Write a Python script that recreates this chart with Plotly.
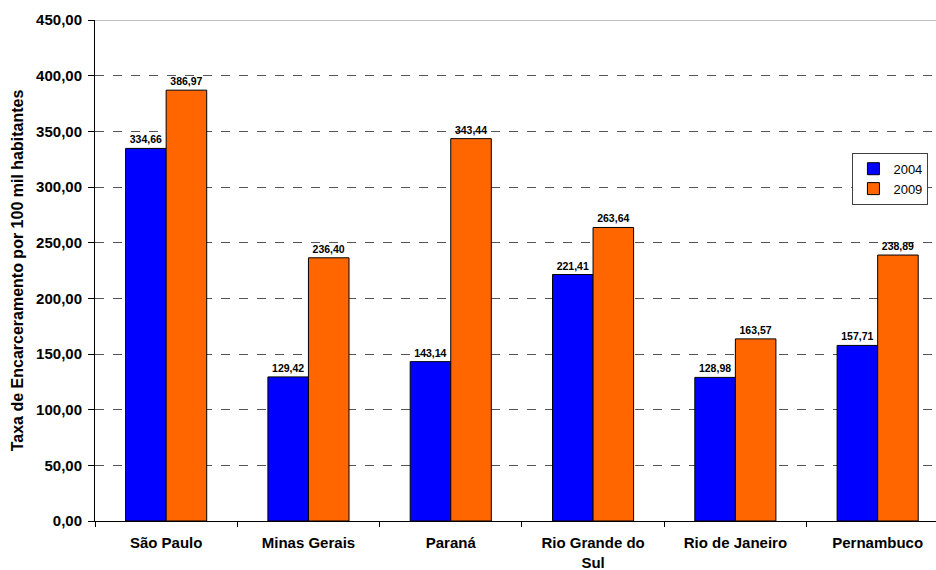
import plotly.graph_objects as go

categories = ["São Paulo", "Minas Gerais", "Paraná", "Rio Grande do<br>Sul", "Rio de Janeiro", "Pernambuco"]
values_2004 = [334.66, 129.42, 143.14, 221.41, 128.98, 157.71]
values_2009 = [386.97, 236.40, 343.44, 263.64, 163.57, 238.89]
y_ticks = [0, 50, 100, 150, 200, 250, 300, 350, 400, 450]

FONT = "Arial, 'Liberation Sans', sans-serif"

fig = go.Figure()
for name, vals, color in [("2004", values_2004, "#0000FF"), ("2009", values_2009, "#FF6600")]:
    fig.add_trace(go.Bar(
        x=categories, y=vals, name=name,
        marker=dict(color=color, line=dict(color="black", width=1)),
        texttemplate="%{y:.2f}", textposition="outside",
        textfont=dict(family=FONT, size=10.5, color="black", weight="bold"),
        cliponaxis=False,
    ))

fig.add_shape(type="line", xref="paper", x0=0, x1=1, yref="y", y0=450, y1=450,
              line=dict(color="#808080", width=1))

fig.update_layout(
    width=936, height=570,
    margin=dict(l=95, r=0, t=20, b=49, autoexpand=False),
    paper_bgcolor="white", plot_bgcolor="white",
    separators=",.",
    barmode="group", bargap=0.43, bargroupgap=0,
    font=dict(family=FONT, color="black"),
    showlegend=True,
    legend=dict(x=0.991, y=0.735, xanchor="right", yanchor="top",
                bordercolor="#404040", borderwidth=1, bgcolor="white",
                font=dict(size=13, family=FONT), itemwidth=30,
                tracegroupgap=0),
    xaxis=dict(
        range=[-0.5, 5.41], showline=True, linecolor="black", linewidth=1,
        ticks="outside", tickson="boundaries", ticklen=5, tickcolor="black",
        tickfont=dict(size=15, family=FONT, weight="bold"), showgrid=False,
        ticklabelstandoff=8,
    ),
    yaxis=dict(
        range=[0, 450], tickvals=y_ticks, tickformat=".2f",
        showline=True, linecolor="black", linewidth=1,
        ticks="outside", ticklen=6, tickcolor="black",
        tickfont=dict(size=15, family=FONT, weight="bold"),
        ticklabelstandoff=3,
        showgrid=True, gridcolor="#555555", griddash="dash", gridwidth=1,
        zeroline=False,
        title=dict(text="Taxa de Encarceramento por 100 mil habitantes",
                   font=dict(size=16, family=FONT, weight="bold"), standoff=8),
    ),
)

fig.write_html("out.html", config={"displayModeBar": False},
               post_script="document.body.style.margin='0';document.body.style.overflow='hidden';")
